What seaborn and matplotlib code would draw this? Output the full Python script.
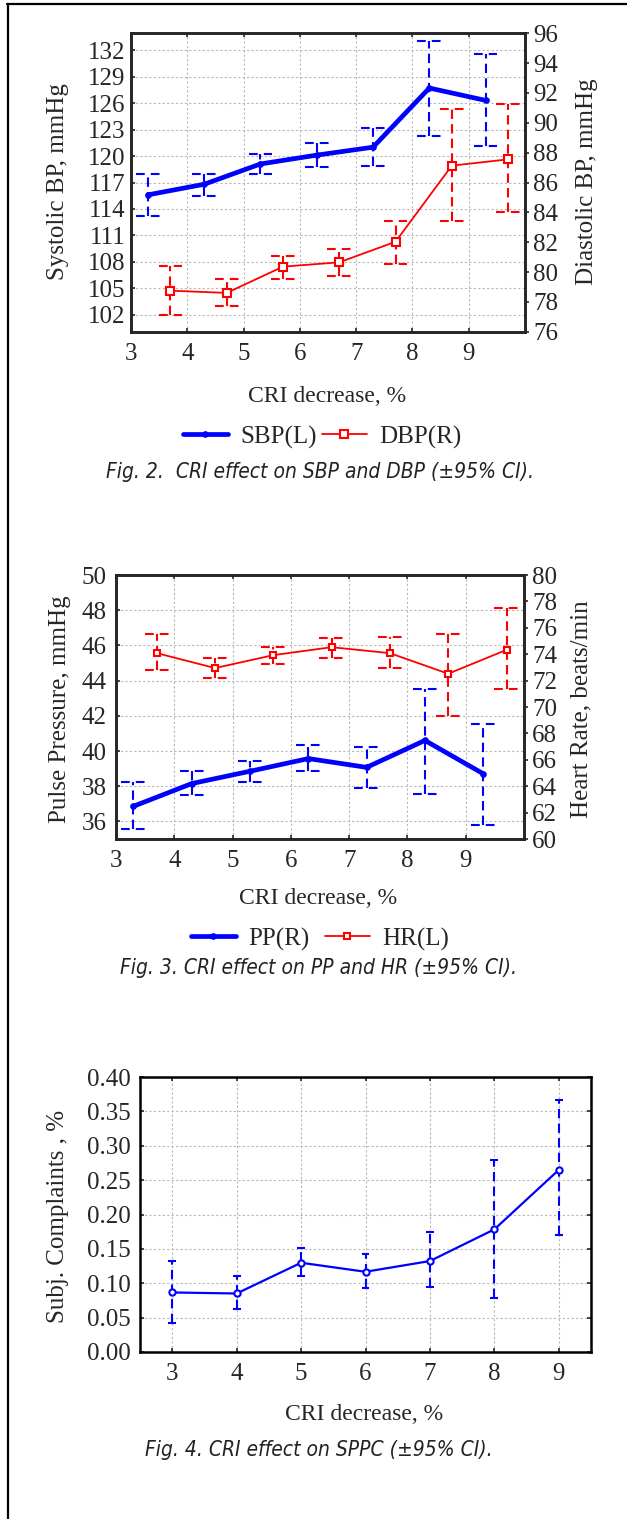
import numpy as np
import matplotlib
matplotlib.use("Agg")
import matplotlib.pyplot as plt
import seaborn as sns
from matplotlib.lines import Line2D

sns.set_style("white")
plt.rcParams['font.family'] = ['Liberation Serif', 'DejaVu Serif']

# CRI decrease levels, %
cri = [3, 4, 5, 6, 7, 8, 9]

# Fig. 2: systolic / diastolic BP, mean and 95% CI
sbp_mean = [115.6, 116.8, 119.1, 120.1, 121.0, 127.7, 126.3]
sbp_lo = [113.2, 115.5, 118.0, 118.7, 118.9, 122.3, 121.1]
sbp_hi = [118.0, 118.0, 120.2, 121.5, 123.2, 133.0, 131.5]
dbp_mean = [78.75, 78.6, 80.36, 80.65, 82.03, 87.13, 87.55]
dbp_lo = [77.1, 77.7, 79.5, 79.7, 80.51, 83.44, 84.02]
dbp_hi = [80.4, 79.5, 81.07, 81.54, 83.44, 90.93, 91.24]

# Fig. 3: pulse pressure / heart rate
pp_mean = [36.86, 38.15, 38.85, 39.57, 39.07, 40.6, 38.71]
pp_lo = [35.54, 37.52, 38.22, 38.85, 37.9, 37.58, 35.8]
pp_hi = [38.22, 38.85, 39.45, 40.36, 40.23, 43.53, 41.55]
hr_mean = [74.08, 72.95, 73.93, 74.53, 74.08, 72.52, 74.33]
hr_lo = [72.77, 72.19, 73.27, 73.75, 72.92, 69.35, 71.39]
hr_hi = [75.52, 73.7, 74.58, 75.26, 75.34, 75.52, 77.48]

# Fig. 4: subjective complaints
sc_mean = [0.0866, 0.0851, 0.1298, 0.1167, 0.1323, 0.1784, 0.2649]
sc_lo = [0.0424, 0.0628, 0.1104, 0.0924, 0.0948, 0.0788, 0.1697]
sc_hi = [0.1327, 0.1104, 0.1517, 0.1425, 0.1741, 0.2795, 0.367]

W, H = 627, 1519
BLUE = '#0000ff'
RED = '#ff0000'
FS = 18
CAP_FS = 15


def fx(px):
    return px / W


def fy(py):
    return 1 - py / H


def axes_rect(l, r, t, b):
    return [fx(l), fy(b), (r - l) / W, (b - t) / H]


def ci_bars(ax, x, lo, hi, color, half, dashed_caps=True):
    x = np.asarray(x, dtype=float)
    ax.vlines(x, lo, hi, colors=color, lw=1.5, linestyles=(0, (4.5, 2.5)), zorder=3)
    cap_ls = (0, (4.2, 2.9)) if dashed_caps else 'solid'
    for yy in (lo, hi):
        ax.hlines(yy, x - half, x + half, colors=color, lw=1.5, linestyles=cap_ls, zorder=3)


def style_axes(ax, twin=None, ypad=5):
    for s in ax.spines.values():
        s.set_linewidth(1.8)
        s.set_color('black')
    ax.grid(True, color='#b8b8b8', ls=(0, (2, 2)), lw=0.8)
    ax.set_axisbelow(True)
    ax.tick_params(axis='x', direction='in', length=3, width=1.2, pad=8, labelsize=FS,
                   top=True, bottom=True)
    ax.tick_params(axis='y', direction='in', length=3, width=1.2, pad=ypad, labelsize=FS,
                   left=True, right=twin is None)
    if twin is not None:
        for s in twin.spines.values():
            s.set_linewidth(1.8)
        twin.tick_params(axis='y', direction='out', length=3, width=1.2, pad=3, labelsize=FS)
        twin.grid(False)


def caption(xp, yp, text):
    fig.text(fx(xp), fy(yp), text, ha='center', va='center', fontsize=CAP_FS,
             style='italic', family='DejaVu Sans', fontstretch='condensed', color='#222222')


fig = plt.figure(figsize=(W / 100, H / 100), dpi=100)

# ---------- Fig. 2 ----------
ax1 = fig.add_axes(axes_rect(131, 525, 33.3, 331.7))
ax1b = ax1.twinx()
x_sbp = np.array(cri) + 0.3
x_dbp = np.array(cri) + 0.7
ci_bars(ax1, x_sbp, sbp_lo, sbp_hi, BLUE, 0.21)
sns.lineplot(x=x_sbp, y=sbp_mean, ax=ax1, color=BLUE, lw=3.4, marker='o', ms=4,
             mec=BLUE, legend=False, zorder=4)
ci_bars(ax1b, x_dbp, dbp_lo, dbp_hi, RED, 0.21)
sns.lineplot(x=x_dbp, y=dbp_mean, ax=ax1b, color=RED, lw=1.3, marker='s', ms=5.3,
             mfc='white', mec=RED, mew=1.5, legend=False, zorder=4)
ax1.set_xlim(3, 10)
ax1.set_xticks(cri)
ax1.set_ylim(100.1, 133.9)
ax1.set_yticks(np.arange(102, 133, 3))
ax1b.set_ylim(76, 96)
ax1b.set_yticks(np.arange(76, 97, 2))
style_axes(ax1, ax1b, ypad=4)
ax1.set_xlabel('')
ax1.set_ylabel('')
fig.text(fx(58), fy(182), 'Systolic BP, mmHg', rotation=90, ha='center', va='center', fontsize=FS)
fig.text(fx(587), fy(182), 'Diastolic BP, mmHg', rotation=90, ha='center', va='center', fontsize=FS)
fig.text(fx(327), fy(397), 'CRI decrease, %', ha='center', va='center', fontsize=17)
fig.legend([ax1.lines[-1], ax1b.lines[-1]], ['SBP(L)', 'DBP(R)'], loc='center',
           bbox_to_anchor=(fx(322), fy(437)), ncol=2, frameon=False, fontsize=FS,
           handlelength=1.8, handletextpad=0.5, columnspacing=0.2)
caption(320, 472, 'Fig. 2.  CRI effect on SBP and DBP (\u00b195% CI).')

# ---------- Fig. 3 ----------
ax2 = fig.add_axes(axes_rect(116, 524, 575, 839))
ax2b = ax2.twinx()
x_pp = np.array(cri) + 0.3
x_hr = np.array(cri) + 0.7
ci_bars(ax2, x_pp, pp_lo, pp_hi, BLUE, 0.21)
sns.lineplot(x=x_pp, y=pp_mean, ax=ax2, color=BLUE, lw=3.4, marker='o', ms=4,
             mec=BLUE, legend=False, zorder=4)
ci_bars(ax2b, x_hr, hr_lo, hr_hi, RED, 0.21)
sns.lineplot(x=x_hr, y=hr_mean, ax=ax2b, color=RED, lw=1.3, marker='s', ms=5,
             mfc='white', mec=RED, mew=1.5, legend=False, zorder=4)
ax2.set_xlim(3, 10)
ax2.set_xticks(cri)
ax2.set_ylim(35, 50)
ax2.set_yticks(np.arange(36, 51, 2))
ax2b.set_ylim(60, 80)
ax2b.set_yticks(np.arange(60, 81, 2))
style_axes(ax2, ax2b, ypad=6.5)
ax2.set_xlabel('')
ax2.set_ylabel('')
fig.text(fx(60), fy(709), 'Pulse Pressure, mmHg', rotation=90, ha='center', va='center', fontsize=FS)
fig.text(fx(581), fy(709), 'Heart Rate, beats/min', rotation=90, ha='center', va='center', fontsize=FS)
fig.text(fx(318), fy(898), 'CRI decrease, %', ha='center', va='center', fontsize=17)
fig.legend([ax2.lines[-1], ax2b.lines[-1]], ['PP(R)', 'HR(L)'], loc='center',
           bbox_to_anchor=(fx(320), fy(939)), ncol=2, frameon=False, fontsize=FS,
           handlelength=1.8, handletextpad=0.5, columnspacing=0.6)
caption(319, 968, 'Fig. 3. CRI effect on PP and HR (\u00b195% CI).')

# ---------- Fig. 4 ----------
ax3 = fig.add_axes(axes_rect(140, 591, 1077, 1352))
ci_bars(ax3, cri, sc_lo, sc_hi, BLUE, 0.06, dashed_caps=False)
sns.lineplot(x=cri, y=sc_mean, ax=ax3, color=BLUE, lw=1.6, marker='o', ms=4.5,
             mfc='white', mec=BLUE, mew=1.5, legend=False, zorder=4)
ax3.set_xlim(2.5, 9.5)
ax3.set_xticks(cri)
ax3.set_ylim(0, 0.40)
ax3.set_yticks(np.arange(0, 0.41, 0.05))
ax3.set_yticklabels([f'{v:.2f}' for v in np.arange(0, 0.41, 0.05)])
style_axes(ax3, ypad=7)
ax3.set_xlabel('')
ax3.set_ylabel('')
fig.text(fx(58), fy(1216), 'Subj. Complaints , %', rotation=90, ha='center', va='center', fontsize=FS)
fig.text(fx(364), fy(1414), 'CRI decrease, %', ha='center', va='center', fontsize=17)
caption(319, 1450, 'Fig. 4. CRI effect on SPPC (\u00b195% CI).')

# page frame (left and top edge)
fig.add_artist(Line2D([fx(8), fx(8)], [fy(3.5), 0], transform=fig.transFigure, color='black', lw=1.6))
fig.add_artist(Line2D([fx(7), 1], [fy(3.5), fy(3.5)], transform=fig.transFigure, color='black', lw=1.6))

fig.savefig('out.png', dpi=100)
